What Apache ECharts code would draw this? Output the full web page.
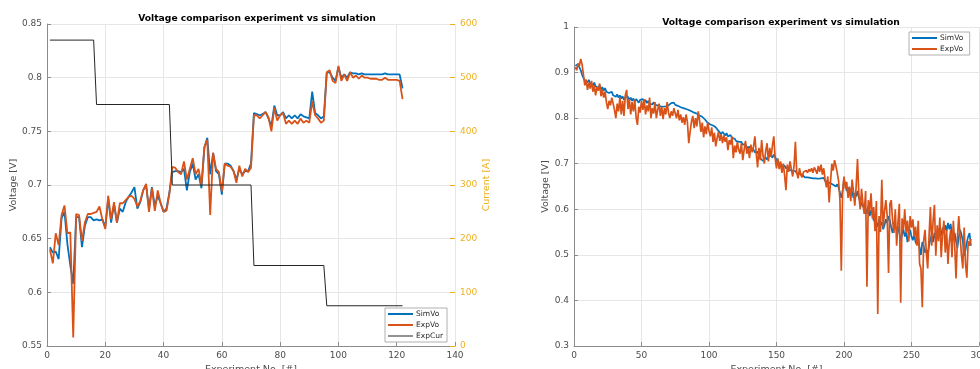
<!DOCTYPE html>
<html>
<head>
<meta charset="utf-8">
<script src="https://cdn.jsdelivr.net/npm/echarts@6/dist/echarts.min.js"></script>
<style>html,body{margin:0;padding:0;background:#fff}#c{width:980px;height:369px}</style>
</head>
<body>
<div id="c"></div>
<script>
// ---------- Left panel data (Experiment No. 1..122) ----------
const simVoLeft = [
0.642,0.637,0.638,0.631,0.669,0.675,0.645,0.625,0.608,0.670,
0.670,0.642,0.662,0.670,0.670,0.667,0.668,0.667,0.668,0.661,
0.687,0.665,0.682,0.665,0.678,0.675,0.684,0.689,0.693,0.698,
0.678,0.684,0.695,0.700,0.678,0.698,0.680,0.690,0.683,0.675,
0.678,0.693,0.712,0.713,0.713,0.712,0.715,0.695,0.712,0.720,
0.705,0.710,0.697,0.735,0.744,0.710,0.730,0.713,0.710,0.691,
0.720,0.720,0.718,0.713,0.705,0.715,0.710,0.713,0.713,0.720,
0.767,0.766,0.765,0.766,0.768,0.762,0.755,0.774,0.765,0.765,
0.768,0.762,0.765,0.762,0.765,0.762,0.766,0.764,0.763,0.762,
0.787,0.767,0.765,0.762,0.764,0.805,0.805,0.800,0.797,0.810,
0.800,0.803,0.800,0.805,0.804,0.804,0.803,0.804,0.803,0.803,
0.803,0.803,0.803,0.803,0.803,0.804,0.803,0.803,0.803,0.803,
0.803,0.790];
const expVoLeft = [
0.640,0.627,0.655,0.644,0.672,0.681,0.655,0.656,0.558,0.673,
0.672,0.648,0.665,0.673,0.673,0.674,0.675,0.680,0.668,0.659,
0.690,0.668,0.684,0.665,0.683,0.683,0.686,0.689,0.690,0.687,
0.680,0.685,0.695,0.701,0.675,0.697,0.676,0.695,0.683,0.675,
0.676,0.692,0.717,0.716,0.712,0.710,0.722,0.705,0.715,0.725,
0.710,0.715,0.700,0.735,0.742,0.672,0.730,0.715,0.712,0.694,
0.720,0.718,0.717,0.713,0.702,0.718,0.708,0.715,0.712,0.716,
0.765,0.765,0.762,0.765,0.768,0.763,0.750,0.772,0.760,0.765,
0.767,0.757,0.760,0.757,0.760,0.757,0.762,0.758,0.760,0.758,
0.778,0.765,0.762,0.758,0.760,0.805,0.807,0.797,0.795,0.811,
0.797,0.803,0.797,0.805,0.800,0.802,0.799,0.802,0.800,0.800,
0.799,0.799,0.799,0.798,0.798,0.800,0.798,0.798,0.798,0.798,
0.797,0.780];
const expCurX = [1, 16, 17, 42, 43, 70, 71, 95, 96, 122];
const expCurY = [570, 570, 450, 450, 300, 300, 150, 150, 75, 75];

// ---------- Right panel data (Experiment No. 1..294) ----------
const simVoRight = [
0.915,0.912,0.918,0.916,0.905,0.895,0.888,0.882,0.886,0.879,
0.884,0.876,0.880,0.872,0.878,0.870,0.874,0.866,0.872,0.862,
0.868,0.860,0.866,0.858,0.862,0.855,0.852,0.858,0.850,0.853,
0.847,0.852,0.845,0.850,0.843,0.848,0.840,0.846,0.842,0.847,
0.840,0.845,0.838,0.843,0.836,0.842,0.838,0.834,0.840,0.836,
0.842,0.835,0.840,0.833,0.838,0.832,0.836,0.830,0.835,0.829,
0.833,0.828,0.832,0.826,0.830,0.825,0.829,0.826,0.830,0.828,
0.831,0.833,0.830,0.834,0.829,0.832,0.827,0.830,0.824,0.827,
0.822,0.826,0.820,0.823,0.818,0.821,0.815,0.818,0.812,0.815,
0.810,0.812,0.806,0.809,0.803,0.800,0.797,0.795,0.790,0.792,
0.786,0.790,0.784,0.787,0.780,0.776,0.772,0.768,0.765,0.770,
0.766,0.762,0.767,0.760,0.758,0.763,0.756,0.752,0.755,0.750,
0.753,0.748,0.745,0.748,0.742,0.739,0.743,0.736,0.733,0.737,
0.730,0.727,0.731,0.725,0.722,0.726,0.718,0.712,0.715,0.706,
0.710,0.714,0.709,0.716,0.712,0.718,0.713,0.720,0.715,0.708,
0.702,0.698,0.700,0.695,0.692,0.696,0.690,0.688,0.692,0.686,
0.688,0.684,0.681,0.684,0.679,0.676,0.678,0.674,0.676,0.672,
0.670,0.668,0.670,0.667,0.669,0.666,0.668,0.665,0.668,0.670,
0.667,0.671,0.668,0.665,0.669,0.662,0.666,0.660,0.664,0.657,
0.661,0.654,0.658,0.650,0.655,0.648,0.652,0.625,0.640,0.665,
0.655,0.640,0.648,0.630,0.645,0.638,0.625,0.635,0.628,0.640,
0.625,0.618,0.622,0.605,0.612,0.600,0.590,0.608,0.585,0.598,
0.590,0.575,0.585,0.570,0.562,0.578,0.566,0.572,0.556,0.565,
0.578,0.570,0.585,0.575,0.560,0.548,0.566,0.570,0.556,0.562,
0.548,0.530,0.545,0.556,0.540,0.550,0.528,0.545,0.555,0.540,
0.532,0.545,0.528,0.522,0.536,0.515,0.500,0.528,0.520,0.505,
0.512,0.498,0.520,0.534,0.545,0.528,0.548,0.536,0.552,0.540,
0.555,0.542,0.560,0.548,0.565,0.552,0.570,0.556,0.568,0.545,
0.535,0.548,0.530,0.515,0.540,0.555,0.545,0.530,0.498,0.510,
0.528,0.540,0.548,0.520];
const expVoRight = [
0.912,0.905,0.920,0.915,0.930,0.918,0.895,0.872,0.885,0.862,
0.878,0.865,0.882,0.858,0.872,0.850,0.868,0.860,0.876,0.848,
0.862,0.845,0.858,0.835,0.820,0.838,0.828,0.845,0.832,0.818,
0.800,0.832,0.815,0.845,0.808,0.838,0.805,0.850,0.862,0.820,
0.842,0.808,0.835,0.815,0.840,0.802,0.785,0.825,0.812,0.838,
0.818,0.842,0.808,0.828,0.815,0.845,0.800,0.822,0.810,0.835,
0.800,0.818,0.832,0.805,0.825,0.798,0.822,0.808,0.835,0.812,
0.800,0.815,0.805,0.822,0.810,0.800,0.818,0.795,0.808,0.790,
0.802,0.785,0.808,0.792,0.745,0.770,0.792,0.805,0.778,0.800,
0.782,0.815,0.795,0.770,0.790,0.758,0.782,0.765,0.790,0.772,
0.760,0.780,0.748,0.768,0.738,0.756,0.770,0.750,0.765,0.745,
0.762,0.748,0.758,0.730,0.752,0.742,0.760,0.712,0.740,0.725,
0.748,0.730,0.722,0.745,0.708,0.730,0.750,0.722,0.735,0.712,
0.742,0.725,0.738,0.760,0.722,0.692,0.735,0.708,0.752,0.718,
0.700,0.728,0.745,0.705,0.735,0.715,0.740,0.760,0.712,0.690,
0.712,0.688,0.705,0.680,0.700,0.675,0.642,0.698,0.682,0.705,
0.688,0.672,0.695,0.748,0.680,0.668,0.690,0.675,0.670,0.682,
0.678,0.685,0.680,0.688,0.683,0.690,0.680,0.692,0.686,0.678,
0.695,0.682,0.698,0.676,0.690,0.665,0.648,0.672,0.615,0.660,
0.700,0.685,0.708,0.695,0.680,0.662,0.620,0.465,0.640,0.672,
0.645,0.660,0.625,0.650,0.618,0.665,0.640,0.608,0.650,0.710,
0.632,0.600,0.645,0.612,0.590,0.640,0.430,0.620,0.595,0.635,
0.580,0.605,0.552,0.618,0.370,0.585,0.550,0.665,0.560,0.595,
0.620,0.585,0.460,0.612,0.620,0.575,0.548,0.600,0.520,0.572,
0.612,0.395,0.580,0.555,0.600,0.548,0.575,0.530,0.585,0.560,
0.578,0.540,0.562,0.520,0.575,0.480,0.470,0.385,0.530,0.555,
0.505,0.470,0.540,0.605,0.520,0.575,0.610,0.498,0.565,0.530,
0.582,0.495,0.545,0.575,0.505,0.555,0.480,0.530,0.555,0.495,
0.575,0.520,0.448,0.535,0.585,0.540,0.500,0.470,0.560,0.480,
0.450,0.530,0.520,0.535];

const titleText = 'Voltage comparison experiment vs simulation';
const xName = 'Experiment No. [#]';
const yName = 'Voltage [V]';
const y2Name = 'Current [A]';

const BLUE = '#0072BD', ORANGE = '#D95319', YEL = '#EDB120', BLK = '#262626';
const FONT = 'DejaVu Sans';
const idx = arr => arr.map((v, i) => [i + 1, v]);
const fmt = v => String(+v.toFixed(2));
const THICK = 'path://M0,0H25V2H0Z';
const THIN = 'path://M0,0H25V1H0Z';

const axisBase = {
  axisLine: { show: true, lineStyle: { color: '#8c8c8c', width: 1 } },
  axisTick: { show: true, inside: true, length: 4, lineStyle: { color: '#8c8c8c' } },
  axisLabel: { color: '#4d4d4d', fontFamily: FONT, fontSize: 9, margin: 5 },
  splitLine: { show: true, lineStyle: { color: '#e6e6e6', width: 1 } },
  nameTextStyle: { color: '#4d4d4d', fontFamily: FONT, fontSize: 9.5 },
  nameLocation: 'middle'
};
const mk = (o) => Object.assign({}, JSON.parse(JSON.stringify(axisBase)), o);
const legendBase = {
  orient: 'vertical', itemWidth: 25, itemHeight: 6, itemGap: 3, symbolKeepAspect: true,
  padding: [2, 4, 2, 3], backgroundColor: '#fff', borderColor: '#b0b0b0', borderWidth: 1, borderRadius: 0,
  textStyle: { fontFamily: FONT, fontSize: 7.5, color: '#262626', padding: [0, 0, 0, -2] }
};

const chart = echarts.init(document.getElementById('c'), null, { renderer: 'canvas' });
chart.setOption({
  animation: false,
  backgroundColor: '#fff',
  title: [
    { text: titleText, left: 252, top: 9, textAlign: 'center',
      textStyle: { fontFamily: FONT, fontSize: 9.2, fontWeight: 'bold', color: '#000' } },
    { text: titleText, left: 776, top: 13, textAlign: 'center',
      textStyle: { fontFamily: FONT, fontSize: 9.2, fontWeight: 'bold', color: '#000' } }
  ],
  grid: [
    { left: 47, top: 24, width: 408, height: 322, outerBoundsMode: 'none', containLabel: false },
    { left: 574, top: 27, width: 405, height: 319, outerBoundsMode: 'none', containLabel: false }
  ],
  xAxis: [
    mk({ type: 'value', gridIndex: 0, min: 0, max: 140, interval: 20, name: xName, nameGap: 14 }),
    mk({ type: 'value', gridIndex: 1, min: 0, max: 300, interval: 50, name: xName, nameGap: 14 })
  ],
  yAxis: [
    mk({ type: 'value', gridIndex: 0, min: 0.55, max: 0.85, interval: 0.05, name: yName, nameGap: 23,
         axisLabel: { color: '#4d4d4d', fontFamily: FONT, fontSize: 9, margin: 5, formatter: fmt } }),
    mk({ type: 'value', gridIndex: 0, position: 'right', min: 0, max: 600, interval: 100, name: y2Name, nameGap: 22,
         nameTextStyle: { color: YEL, fontFamily: FONT, fontSize: 9.5 },
         axisLine: { show: true, lineStyle: { color: '#f6e7bd' } },
         axisTick: { show: true, inside: true, length: 5, lineStyle: { color: YEL } },
         axisLabel: { color: YEL, fontFamily: FONT, fontSize: 9, margin: 5 },
         splitLine: { show: false } }),
    mk({ type: 'value', gridIndex: 1, min: 0.3, max: 1, interval: 0.1, name: yName, nameGap: 17,
         axisLabel: { color: '#4d4d4d', fontFamily: FONT, fontSize: 9, margin: 5, formatter: fmt } })
  ],
  legend: [
    Object.assign({}, legendBase, { left: 385, top: 308,
      data: [{ name: 'SimVo', icon: THICK }, { name: 'ExpVo', icon: THICK }, { name: 'ExpCur', icon: THIN }] }),
    Object.assign({}, legendBase, { left: 909, top: 32,
      data: [{ name: 'SimVo ', icon: THICK }, { name: 'ExpVo ', icon: THICK }] })
  ],
  series: [
    { name: 'SimVo', type: 'line', xAxisIndex: 0, yAxisIndex: 0, data: idx(simVoLeft),
      symbol: 'none', lineStyle: { color: BLUE, width: 1.8 }, itemStyle: { color: BLUE } },
    { name: 'ExpVo', type: 'line', xAxisIndex: 0, yAxisIndex: 0, data: idx(expVoLeft),
      symbol: 'none', lineStyle: { color: ORANGE, width: 1.8 }, itemStyle: { color: ORANGE } },
    { name: 'ExpCur', type: 'line', xAxisIndex: 0, yAxisIndex: 1, data: expCurX.map((x, i) => [x, expCurY[i]]),
      symbol: 'none', lineStyle: { color: BLK, width: 1 }, itemStyle: { color: BLK } },
    { name: 'SimVo ', type: 'line', xAxisIndex: 1, yAxisIndex: 2, data: idx(simVoRight),
      symbol: 'none', lineStyle: { color: BLUE, width: 1.7 }, itemStyle: { color: BLUE } },
    { name: 'ExpVo ', type: 'line', xAxisIndex: 1, yAxisIndex: 2, data: idx(expVoRight),
      symbol: 'none', lineStyle: { color: ORANGE, width: 1.7 }, itemStyle: { color: ORANGE } }
  ]
});
</script>
</body>
</html>
